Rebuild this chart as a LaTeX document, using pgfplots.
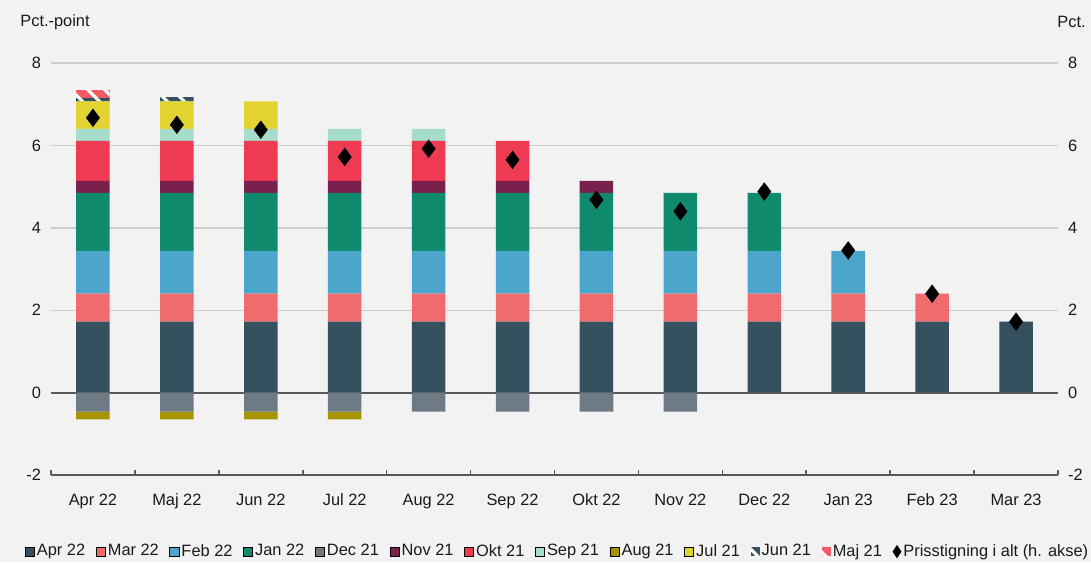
\documentclass[border=0pt]{standalone}
\usepackage{pgfplots}
\pgfplotsset{compat=1.18}
\usepackage{pgfplotstable}
\usepackage{fontspec}
\setmainfont{Liberation Sans}
\usetikzlibrary{patterns.meta}

\definecolor{bgc}{HTML}{F2F2F2}
\definecolor{gridc}{HTML}{CDCDCD}
\definecolor{axisc}{HTML}{595959}
\definecolor{txtc}{HTML}{1A1A1A}
\definecolor{cApr}{HTML}{35505F}
\definecolor{cMar}{HTML}{F06B6E}
\definecolor{cFeb}{HTML}{4CA6CB}
\definecolor{cJan}{HTML}{0F8A6C}
\definecolor{cDec}{HTML}{6E7B86}
\definecolor{cNov}{HTML}{7A204C}
\definecolor{cOkt}{HTML}{EE3A52}
\definecolor{cSep}{HTML}{A5DCCA}
\definecolor{cAug}{HTML}{A89400}
\definecolor{cJul}{HTML}{E2D232}
\definecolor{cJun}{HTML}{35505F}
\definecolor{cMaj}{HTML}{F05A64}

\pgfplotstableread{
x Apr22 Mar22 Feb22 Jan22 Nov21 Okt21 Sep21 Jul21 Jun21 Maj21 Dec21 Aug21 Tot
0 1.72 0.68 1.04 1.41 0.29 0.97 0.29 0.67 0.08 0.20 -0.46 -0.19 6.67
1 1.72 0.68 1.04 1.41 0.29 0.97 0.29 0.67 0.10 0 -0.46 -0.19 6.50
2 1.72 0.68 1.04 1.41 0.29 0.97 0.29 0.67 0 0 -0.46 -0.19 6.38
3 1.72 0.68 1.04 1.41 0.29 0.97 0.29 0 0 0 -0.46 -0.19 5.72
4 1.72 0.68 1.04 1.41 0.29 0.97 0.29 0 0 0 -0.46 0 5.92
5 1.72 0.68 1.04 1.41 0.29 0.97 0 0 0 0 -0.46 0 5.65
6 1.72 0.68 1.04 1.41 0.29 0 0 0 0 0 -0.46 0 4.68
7 1.72 0.68 1.04 1.41 0 0 0 0 0 0 -0.46 0 4.40
8 1.72 0.68 1.04 1.41 0 0 0 0 0 0 0 0 4.88
9 1.72 0.68 1.04 0 0 0 0 0 0 0 0 0 3.45
10 1.72 0.68 0 0 0 0 0 0 0 0 0 0 2.40
11 1.72 0 0 0 0 0 0 0 0 0 0 0 1.72
}\data

\pgfplotsset{
  base/.style={width=503.5pt,height=206pt,scale only axis,
    xmin=-0.5,xmax=11.5,ymin=-2,ymax=8,at={(0,0)},anchor=south west,
    tick label style={font=\fontsize{8.2}{9.8}\selectfont,text=txtc},
    /pgf/number format/assume math mode=true},
  bars/.style={draw=none,fill=#1},
  stripes/.style={draw=none,fill=#1,postaction={pattern={Lines[angle=-45,distance=6pt,line width=1.6pt]},pattern color=white}},
  sqleg/.style={legend image code/.code={\fill[##1] (0pt,-2.3pt) rectangle (4.6pt,2.3pt);}},
}

\begin{document}
\begin{tikzpicture}
\useasboundingbox (-25.5pt,-43.5pt) rectangle (520pt,237.5pt);
\fill[bgc] (-25.5pt,-43.5pt) rectangle (520pt,237.5pt);

% positive stacks
\begin{axis}[base, ybar stacked, bar width=0.4,
  axis line style={draw=none},
  ytick={-2,0,...,8}, ytick pos=left, ytick style={draw=none},
  ymajorgrids, grid style={gridc,line width=0.7pt},
  xtick={-0.5,0.5,...,11.5}, x tick label as interval,
  xticklabels={Apr 22,Maj 22,Jun 22,Jul 22,Aug 22,Sep 22,Okt 22,Nov 22,Dec 22,Jan 23,Feb 23,Mar 23},
  xtick pos=bottom, tick align=inside, major tick length=2.4pt,
  xtick style={draw=axisc,line width=0.8pt},
  xticklabel style={yshift=-6pt},
  yticklabel style={xshift=-1.5pt},
]
\addplot[bars=cApr] table[x=x,y=Apr22]{\data};
\addplot[bars=cMar] table[x=x,y=Mar22]{\data};
\addplot[bars=cFeb] table[x=x,y=Feb22]{\data};
\addplot[bars=cJan] table[x=x,y=Jan22]{\data};
\addplot[bars=cNov] table[x=x,y=Nov21]{\data};
\addplot[bars=cOkt] table[x=x,y=Okt21]{\data};
\addplot[bars=cSep] table[x=x,y=Sep21]{\data};
\addplot[bars=cJul] table[x=x,y=Jul21]{\data};
\addplot[stripes=cJun] table[x=x,y=Jun21]{\data};
\addplot[stripes=cMaj] table[x=x,y=Maj21]{\data};
\end{axis}

% negative stacks
\begin{axis}[base, hide axis, ybar stacked, bar width=0.4]
\addplot[bars=cDec] table[x=x,y=Dec21]{\data};
\addplot[bars=cAug] table[x=x,y=Aug21]{\data};
\draw[axisc,line width=0.9pt] (rel axis cs:0,0) -- (rel axis cs:1,0);
\draw[axisc,line width=0.9pt] (axis cs:-0.5,0) -- (axis cs:11.5,0);
\end{axis}

% right axis with total price increase
\begin{axis}[base, axis line style={draw=none},
  xtick=\empty, ytick={-2,0,...,8}, yticklabel pos=right, ytick style={draw=none},
  yticklabel style={xshift=1.5pt},
  legend columns=-1,
  legend style={draw=none,fill=none,at={(0.503,-0.186)},anchor=center,
    font=\fontsize{8.2}{9.8}\selectfont,text=txtc,inner xsep=0pt,inner ysep=0pt,
    nodes={inner xsep=1pt,inner ysep=0pt},
    /tikz/every even column/.append style={column sep=4.3pt}},
]
\addlegendimage{sqleg,fill=cApr}\addlegendentry{Apr 22}
\addlegendimage{sqleg,fill=cMar}\addlegendentry{Mar 22}
\addlegendimage{sqleg,fill=cFeb}\addlegendentry{Feb 22}
\addlegendimage{sqleg,fill=cJan}\addlegendentry{Jan 22}
\addlegendimage{sqleg,fill=cDec}\addlegendentry{Dec 21}
\addlegendimage{sqleg,fill=cNov}\addlegendentry{Nov 21}
\addlegendimage{sqleg,fill=cOkt}\addlegendentry{Okt 21}
\addlegendimage{sqleg,fill=cSep}\addlegendentry{Sep 21}
\addlegendimage{sqleg,fill=cAug}\addlegendentry{Aug 21}
\addlegendimage{sqleg,fill=cJul}\addlegendentry{Jul 21}
\addlegendimage{sqleg,stripes=cJun}\addlegendentry{Jun 21}
\addlegendimage{sqleg,stripes=cMaj}\addlegendentry{Maj 21}
\addplot[only marks, mark=diamond*, mark size=4.3pt, black,
  legend image code/.code={\fill[black] (2.3pt,-3pt) -- (4.3pt,0pt) -- (2.3pt,3pt) -- (0.3pt,0pt) -- cycle;}]
  table[x=x,y=Tot]{\data};
\addlegendentry{Prisstigning i alt (h. akse)}
\end{axis}

\node[anchor=west,inner sep=0pt,text=txtc,font=\fontsize{8.2}{9.8}\selectfont] at (-15.5pt,226.5pt) {Pct.-point};
\node[anchor=east,inner sep=0pt,text=txtc,font=\fontsize{8.2}{9.8}\selectfont] at (517.5pt,226.5pt) {Pct.};
\end{tikzpicture}
\end{document}
